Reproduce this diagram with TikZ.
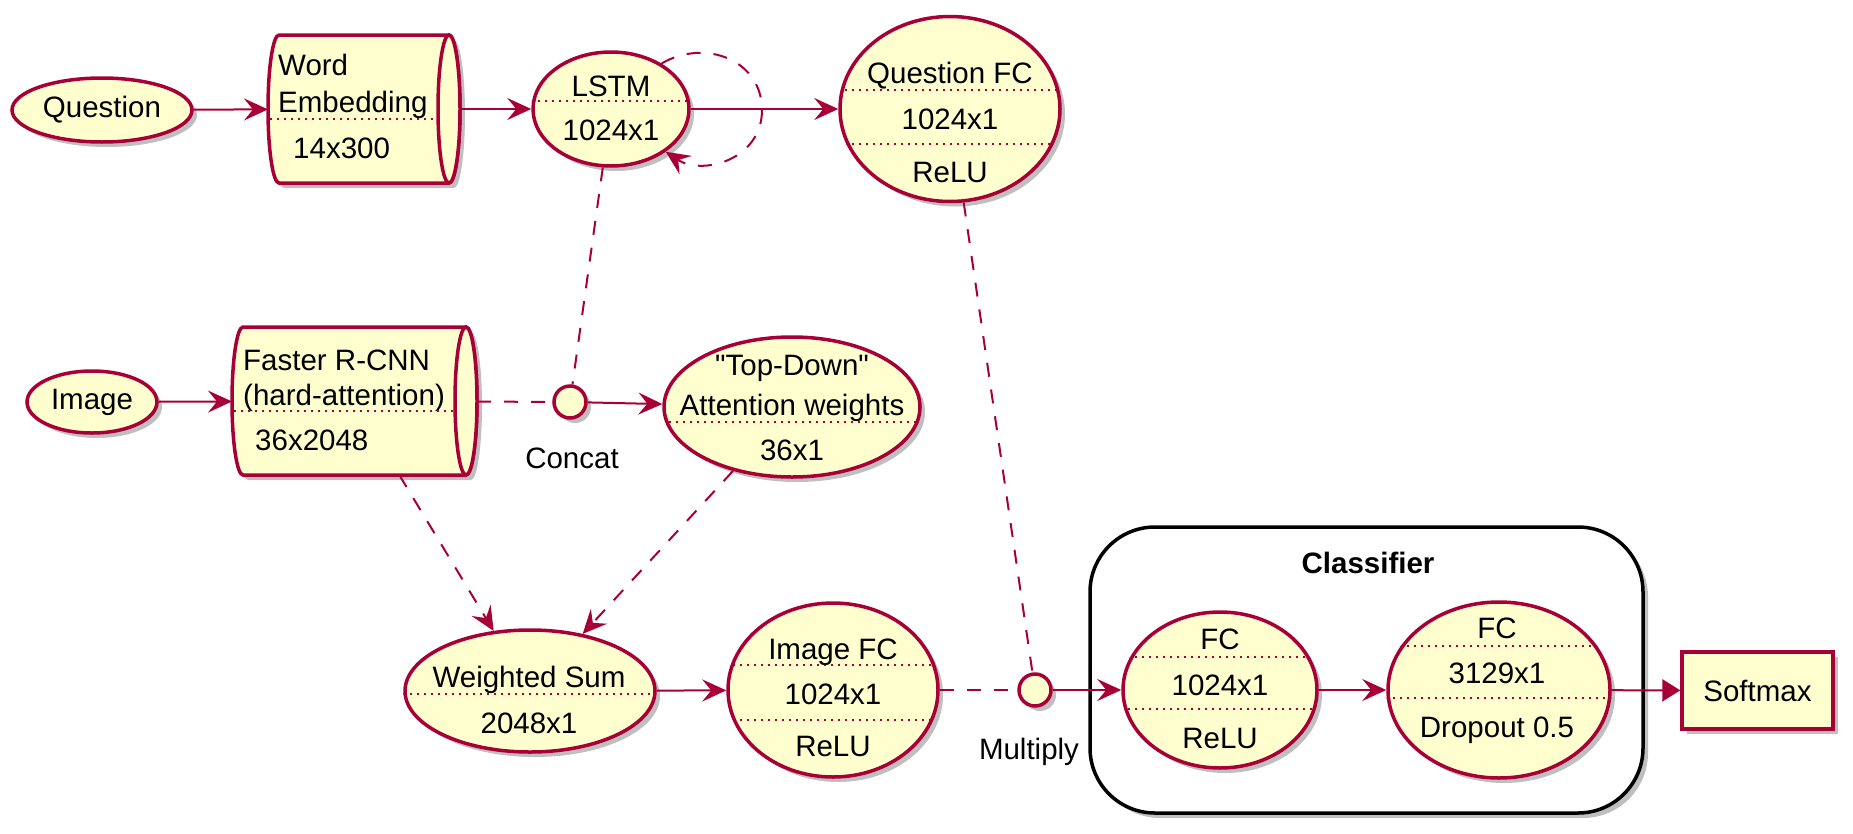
\documentclass[tikz,border=0pt]{standalone}
\usepackage{fontspec}
\setmainfont{Liberation Sans}
\usetikzlibrary{shapes.geometric, arrows.meta, positioning, shadows, calc}

\definecolor{umlred}{HTML}{A80036}
\definecolor{umlfill}{HTML}{FEFECE}

\tikzset{
  shade/.style={drop shadow={shadow xshift=5pt, shadow yshift=-5pt, fill=black, opacity=0.25}},
  uc/.style={ellipse, draw=umlred, fill=umlfill, line width=3.5pt, inner sep=0pt, shade},
  port/.style={circle, draw=umlred, fill=umlfill, line width=3.5pt, minimum size=32pt, inner sep=0pt, shade},
  qnode/.style={inner sep=0pt, outer sep=0pt},
  qbody/.style={draw=umlred, fill=umlfill, line width=3.5pt},
  txt/.style={inner sep=0pt, anchor=base},
  ltxt/.style={inner sep=0pt, anchor=base west},
  sep/.style={draw=umlred, line width=2pt, dash pattern=on 2pt off 5pt},
  link/.style={draw=umlred, line width=2pt},
  arr/.style={link, -{Stealth[length=24pt, width=22pt, inset=9pt]}},
  dlink/.style={link, dash pattern=on 14pt off 13pt},
  darr/.style={dlink, -{Stealth[length=24pt, width=22pt, inset=9pt]}},
  tarr/.style={link, -{Triangle[length=18pt, width=22pt]}},
}

% horizontal cylinder drawn round a plain node
\newcommand\queue[1]{%
  \path[qbody, shade] let \p0=(#1.center), \p1=(#1.north east), \p2=(#1.south west),
      \n1={(\y1-\y2)/2} in
    (\x2+11pt,\y1) -- (\x1-11pt,\y1)
      arc[start angle=90, end angle=-90, x radius=11pt, y radius=\n1]
      -- (\x2+11pt,\y2)
      arc[start angle=270, end angle=90, x radius=11pt, y radius=\n1] -- cycle;
  \path[qbody] let \p0=(#1.center), \p1=(#1.north east), \p2=(#1.south west),
      \n1={(\y1-\y2)/2} in
    (\x1-11pt,\y0) ellipse [x radius=11pt, y radius=\n1];
}

% dotted separator inside an ellipse node
\newcommand\ucsep[2]{%
  \begin{scope}
    \clip let \p0=(#1.center), \p1=(#1.east), \p2=(#1.north),
        \n1={\x1-\x0}, \n2={\y2-\y0} in
      (\p0) ellipse [x radius=\n1, y radius=\n2];
    \coordinate (sepy) at (0,#2);
    \draw[sep] (#1.west |- sepy) -- (#1.east |- sepy);
  \end{scope}}

\begin{document}
\begin{tikzpicture}[x=1pt, y=1pt, font=\fontsize{29.5}{35}\selectfont]
  \useasboundingbox (0,0) rectangle (1853,-833);

  % classifier frame
  \node[draw=black, line width=3.5pt, rounded corners=65pt, fill=white, shade,
        minimum width=553pt, minimum height=286pt, inner sep=0pt] (cls) at (1366.5,-670) {};
  \node[font=\fontsize{29.5}{35}\selectfont\bfseries] (cls-t) at (1368,-563) {Classifier};

  % question branch
  \node[uc, minimum width=180pt, minimum height=64pt] (question) at (102,-110) {Question};
  \node[qnode, minimum width=192pt, minimum height=148pt] (wemb) at (364,-109) {};
  \queue{wemb}
  \node[ltxt] (wemb-a) at (278,-75) {Word};
  \node[ltxt] (wemb-b) at (278,-112) {Embedding};
  \node[ltxt] (wemb-c) at (293,-158) {14x300};
  \draw[sep] (270,-119) -- (437,-119);

  \node[uc, minimum width=156pt, minimum height=114pt] (lstm) at (611,-109) {};
  \ucsep{lstm}{-101}
  \node[txt] (lstm-a) at (611,-96) {LSTM};
  \node[txt] (lstm-b) at (611,-140) {1024x1};

  \node[uc, minimum width=220pt, minimum height=185pt] (qfc) at (950,-109) {};
  \ucsep{qfc}{-90}
  \ucsep{qfc}{-144}
  \node[txt] (qfc-a) at (950,-83) {Question FC};
  \node[txt] (qfc-b) at (950,-129) {1024x1};
  \node[txt] (qfc-c) at (950,-182) {ReLU};

  % image branch
  \node[uc, minimum width=130pt, minimum height=62pt] (image) at (92,-402) {Image};
  \node[qnode, minimum width=245pt, minimum height=148pt] (rcnn) at (354.5,-401) {};
  \queue{rcnn}
  \node[ltxt] (rcnn-a) at (243,-370) {Faster R-CNN};
  \node[ltxt] (rcnn-b) at (243,-405) {(hard-attention)};
  \node[ltxt] (rcnn-c) at (255,-450) {36x2048};
  \draw[sep] (234,-411) -- (456,-411);

  \node[port] (concat) at (570,-402) {};
  \node (concat-l) at (572,-458) {Concat};

  \node[uc, minimum width=256pt, minimum height=140pt] (tdown) at (792,-407) {};
  \ucsep{tdown}{-422}
  \node[txt] (tdown-a) at (792,-375) {\textquotedbl Top-Down\textquotedbl};
  \node[txt] (tdown-b) at (792,-415) {Attention weights};
  \node[txt] (tdown-c) at (792,-460) {36x1};

  \node[uc, minimum width=250pt, minimum height=122pt] (wsum) at (530,-691) {};
  \ucsep{wsum}{-694}
  \node[txt] (wsum-a) at (529,-687) {Weighted Sum};
  \node[txt] (wsum-b) at (529,-733) {2048x1};

  \node[uc, minimum width=210pt, minimum height=174pt] (ifc) at (833,-690) {};
  \ucsep{ifc}{-665}
  \ucsep{ifc}{-720}
  \node[txt] (ifc-a) at (833,-659) {Image FC};
  \node[txt] (ifc-b) at (833,-704) {1024x1};
  \node[txt] (ifc-c) at (833,-756) {ReLU};

  \node[port] (mul) at (1035,-690) {};
  \node (mul-l) at (1029,-752) {Multiply};

  % classifier
  \node[uc, minimum width=194pt, minimum height=156pt] (fc1) at (1220,-690) {};
  \ucsep{fc1}{-657}
  \ucsep{fc1}{-709}
  \node[txt] (fc1-a) at (1220,-649) {FC};
  \node[txt] (fc1-b) at (1220,-695) {1024x1};
  \node[txt] (fc1-c) at (1220,-748) {ReLU};

  \node[uc, minimum width=222pt, minimum height=176pt] (fc2) at (1499,-690) {};
  \ucsep{fc2}{-646}
  \ucsep{fc2}{-698}
  \node[txt] (fc2-a) at (1497,-638) {FC};
  \node[txt] (fc2-b) at (1497,-683) {3129x1};
  \node[txt] (fc2-c) at (1497,-737) {Dropout 0.5};

  \node[draw=umlred, fill=umlfill, line width=3.5pt, shade, minimum width=151pt,
        minimum height=77pt, inner sep=0pt] (softmax) at (1757.5,-690.5) {Softmax};

  % connectors
  \draw[arr] (question) -- (wemb);
  \draw[arr] (wemb) -- (lstm);
  \draw[arr] (lstm) -- (qfc);
  \draw[darr] (lstm.42) .. controls (705,-38) and (762,-60) .. (762,-110)
    .. controls (762,-160) and (702,-176) .. (lstm.-38);
  \draw[arr] (image) -- (rcnn);
  \draw[dlink] (rcnn) -- (concat);
  \draw[dlink] (lstm) -- (concat);
  \draw[arr] (concat) -- (tdown);
  \draw[darr] (rcnn) -- (wsum);
  \draw[darr] (tdown) -- (wsum);
  \draw[arr] (wsum) -- (ifc);
  \draw[dlink] (ifc) -- (mul);
  \draw[dlink] (qfc) -- (mul);
  \draw[arr] (mul) -- (fc1);
  \draw[arr] (fc1) -- (fc2);
  \draw[tarr] (fc2) -- (softmax);
\end{tikzpicture}
\end{document}
